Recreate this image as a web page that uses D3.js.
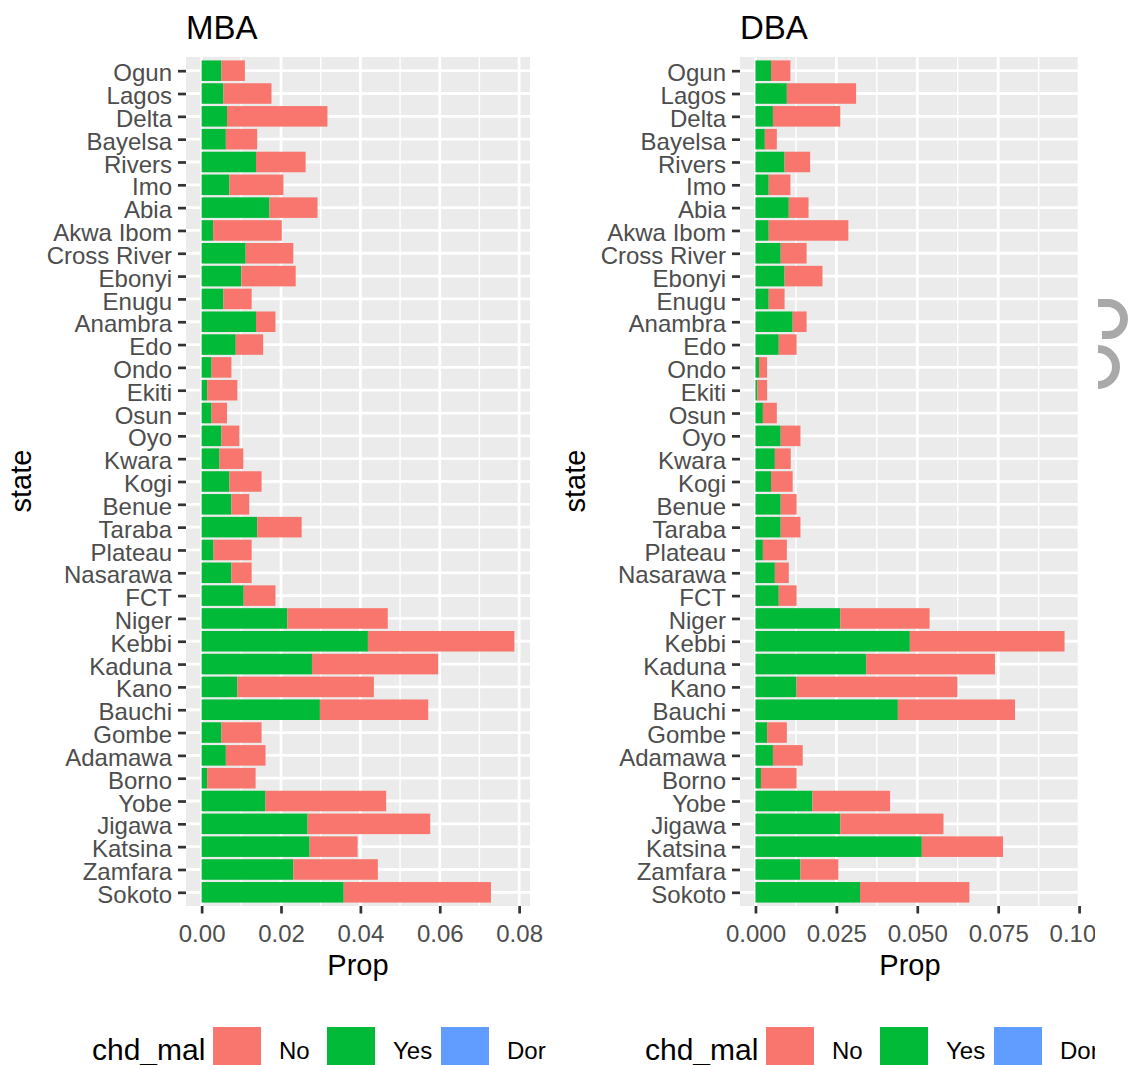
<!DOCTYPE html>
<html>
<head>
<meta charset="utf-8">
<script src="https://cdn.jsdelivr.net/npm/d3@7"></script>
<style>
  body { margin: 0; background: #ffffff; }
  svg text { font-family: "Liberation Sans", Arial, sans-serif; }
</style>
</head>
<body>
<div id="chart-area"></div>
<script>
/*
*    stacked proportion bars, MBA vs DBA
*/

var states = ["Ogun", "Lagos", "Delta", "Bayelsa", "Rivers", "Imo", "Abia", "Akwa Ibom",
  "Cross River", "Ebonyi", "Enugu", "Anambra", "Edo", "Ondo", "Ekiti", "Osun", "Oyo",
  "Kwara", "Kogi", "Benue", "Taraba", "Plateau", "Nasarawa", "FCT", "Niger", "Kebbi",
  "Kaduna", "Kano", "Bauchi", "Gombe", "Adamawa", "Borno", "Yobe", "Jigawa", "Katsina",
  "Zamfara", "Sokoto"];

var mbaYes = [0.0050, 0.0055, 0.0064, 0.0061, 0.0137, 0.0070, 0.0171, 0.0029,
  0.0111, 0.0100, 0.0055, 0.0137, 0.0086, 0.0025, 0.0014, 0.0025, 0.0050,
  0.0045, 0.0070, 0.0075, 0.0140, 0.0030, 0.0075, 0.0106, 0.0216, 0.0419,
  0.0278, 0.0090, 0.0298, 0.0050, 0.0061, 0.0014, 0.0161, 0.0267, 0.0272,
  0.0231, 0.0358];
var mbaNo = [0.0059, 0.0121, 0.0253, 0.0079, 0.0125, 0.0136, 0.0121, 0.0173,
  0.0120, 0.0137, 0.0071, 0.0049, 0.0069, 0.0050, 0.0076, 0.0039, 0.0045,
  0.0060, 0.0081, 0.0045, 0.0112, 0.0096, 0.0051, 0.0080, 0.0253, 0.0369,
  0.0318, 0.0344, 0.0273, 0.0101, 0.0100, 0.0122, 0.0304, 0.0309, 0.0121,
  0.0213, 0.0371];

var dbaYes = [0.0048, 0.0097, 0.0054, 0.0029, 0.0090, 0.0041, 0.0103, 0.0041,
  0.0078, 0.0090, 0.0041, 0.0115, 0.0072, 0.0011, 0.0006, 0.0023, 0.0078,
  0.0060, 0.0048, 0.0078, 0.0078, 0.0023, 0.0060, 0.0072, 0.0262, 0.0477,
  0.0342, 0.0127, 0.0440, 0.0036, 0.0054, 0.0017, 0.0176, 0.0262, 0.0514,
  0.0139, 0.0323];
var dbaNo = [0.0060, 0.0214, 0.0208, 0.0037, 0.0079, 0.0067, 0.0061, 0.0246,
  0.0080, 0.0117, 0.0049, 0.0043, 0.0055, 0.0025, 0.0030, 0.0043, 0.0061,
  0.0049, 0.0067, 0.0049, 0.0061, 0.0074, 0.0043, 0.0055, 0.0276, 0.0478,
  0.0398, 0.0497, 0.0362, 0.0061, 0.0092, 0.0110, 0.0240, 0.0319, 0.0251,
  0.0117, 0.0338];

var mbaTicks = [0, 0.02, 0.04, 0.06, 0.08];
var mbaTickLabels = ["0.00", "0.02", "0.04", "0.06", "0.08"];
var dbaTicks = [0, 0.025, 0.05, 0.075, 0.1];
var dbaTickLabels = ["0.000", "0.025", "0.050", "0.075", "0.100"];

var legendKeys = ["No", "Yes", "Dor"];
var legendColors = ["#F8766D", "#00BA38", "#619CFF"];

var width = 1130;
var height = 1065;

var svg = d3.select("#chart-area")
  .append("svg")
  .attr("width", width)
  .attr("height", height);

var y = d3.scalePoint()
  .domain(states)
  .range([57, 906])
  .padding(0.6);

var barH = y.step() * 0.9;

var color = d3.scaleOrdinal()
  .domain(legendKeys)
  .range(legendColors);

function drawPanel(opts) {
  var totals = opts.yes.map((d, i) => { return d + opts.no[i]; });
  var maxV = d3.max(totals);

  var x = d3.scaleLinear()
    .domain([-0.05 * maxV, maxV * 1.05])
    .range([opts.left, opts.right]);

  var g = svg.append("g");

  // panel background
  g.append("rect")
    .attr("x", opts.left)
    .attr("y", 57)
    .attr("width", opts.right - opts.left)
    .attr("height", 906 - 57)
    .attr("fill", "#EBEBEB");

  // minor grid, midway between majors
  var minor = opts.ticks.slice(1).map((t, i) => { return (t + opts.ticks[i]) / 2; });
  g.selectAll(".minor")
    .data(minor)
    .enter().append("line")
    .attr("x1", (d) => { return x(d); })
    .attr("x2", (d) => { return x(d); })
    .attr("y1", 57)
    .attr("y2", 906)
    .attr("stroke", "#ffffff")
    .attr("stroke-width", 1.4);

  g.selectAll(".majorx")
    .data(opts.ticks)
    .enter().append("line")
    .attr("x1", (d) => { return x(d); })
    .attr("x2", (d) => { return x(d); })
    .attr("y1", 57)
    .attr("y2", 906)
    .attr("stroke", "#ffffff")
    .attr("stroke-width", 2.8);

  g.selectAll(".majory")
    .data(states)
    .enter().append("line")
    .attr("x1", opts.left)
    .attr("x2", opts.right)
    .attr("y1", (d) => { return y(d); })
    .attr("y2", (d) => { return y(d); })
    .attr("stroke", "#ffffff")
    .attr("stroke-width", 2.8);

  // bars: Yes from zero, No stacked after it
  g.selectAll(".yes")
    .data(states)
    .enter().append("rect")
    .attr("x", x(0))
    .attr("y", (d) => { return y(d) - barH / 2; })
    .attr("width", (d, i) => { return x(opts.yes[i]) - x(0); })
    .attr("height", barH)
    .attr("fill", color("Yes"));

  g.selectAll(".no")
    .data(states)
    .enter().append("rect")
    .attr("x", (d, i) => { return x(opts.yes[i]); })
    .attr("y", (d) => { return y(d) - barH / 2; })
    .attr("width", (d, i) => { return x(totals[i]) - x(opts.yes[i]); })
    .attr("height", barH)
    .attr("fill", color("No"));

  // axes
  var bottomAxis = d3.axisBottom(x)
    .tickValues(opts.ticks)
    .tickFormat((d, i) => { return opts.labels[i]; })
    .tickSize(7.5)
    .tickPadding(11);

  var xa = g.append("g")
    .attr("transform", "translate(0, 906)")
    .call(bottomAxis);
  xa.select(".domain").remove();
  xa.selectAll("line").attr("stroke", "#333333").attr("stroke-width", 2.7);
  xa.selectAll("text")
    .attr("fill", "#4D4D4D")
    .attr("font-size", "24px")
    .attr("font-family", "Liberation Sans, Arial, sans-serif");

  var leftAxis = d3.axisLeft(y)
    .tickSize(8)
    .tickPadding(6);

  var ya = g.append("g")
    .attr("transform", "translate(" + opts.left + ", 0)")
    .call(leftAxis);
  ya.select(".domain").remove();
  ya.selectAll("line").attr("stroke", "#333333").attr("stroke-width", 2.7);
  ya.selectAll("text")
    .attr("fill", "#4D4D4D")
    .attr("dy", "0.42em")
    .attr("font-size", "24px")
    .attr("font-family", "Liberation Sans, Arial, sans-serif");

  // titles
  g.append("text")
    .attr("x", opts.left)
    .attr("y", 39)
    .attr("font-size", "33px")
    .attr("fill", "#000000")
    .text(opts.title);

  g.append("text")
    .attr("x", (opts.left + opts.right) / 2)
    .attr("y", 975)
    .attr("text-anchor", "middle")
    .attr("font-size", "29px")
    .attr("fill", "#000000")
    .text("Prop");

  g.append("text")
    .attr("transform", "translate(" + (opts.left - 155) + ", 481) rotate(-90)")
    .attr("text-anchor", "middle")
    .attr("font-size", "29px")
    .attr("fill", "#000000")
    .text("state");

  // legend
  var lg = g.append("g")
    .attr("transform", "translate(" + opts.legendX + ", 0)");

  lg.append("text")
    .attr("x", 0)
    .attr("y", 1060)
    .attr("font-size", "30px")
    .attr("fill", "#000000")
    .text("chd_mal");

  legendKeys.forEach((k, i) => {
    var row = lg.append("g")
      .attr("transform", "translate(" + (121 + i * 114) + ", 0)");
    row.append("rect")
      .attr("x", 0)
      .attr("y", 1027)
      .attr("width", 48)
      .attr("height", 47)
      .attr("fill", color(k));
    row.append("text")
      .attr("x", 66)
      .attr("y", 1059)
      .attr("font-size", "24px")
      .attr("fill", "#000000")
      .text(k);
  });
}

drawPanel({title: "MBA", left: 186, right: 530, yes: mbaYes, no: mbaNo,
  ticks: mbaTicks, labels: mbaTickLabels, legendX: 92});
drawPanel({title: "DBA", left: 740, right: 1080, yes: dbaYes, no: dbaNo,
  ticks: dbaTicks, labels: dbaTickLabels, legendX: 645});

// the screenshot is cut off on the right
svg.append("rect")
  .attr("x", 1095)
  .attr("y", 0)
  .attr("width", width - 1095)
  .attr("height", height)
  .attr("fill", "#ffffff");

// grey marks at the right edge
svg.append("path")
  .attr("d", "M1098,303 L1108,303 A16,16 0 0 1 1108,335 L1102,335")
  .attr("fill", "none")
  .attr("stroke", "#A9A9A9")
  .attr("stroke-width", 8);

svg.append("path")
  .attr("d", "M1098,349 A18,18 0 0 1 1098,385")
  .attr("fill", "none")
  .attr("stroke", "#A9A9A9")
  .attr("stroke-width", 8);
</script>
</body>
</html>
